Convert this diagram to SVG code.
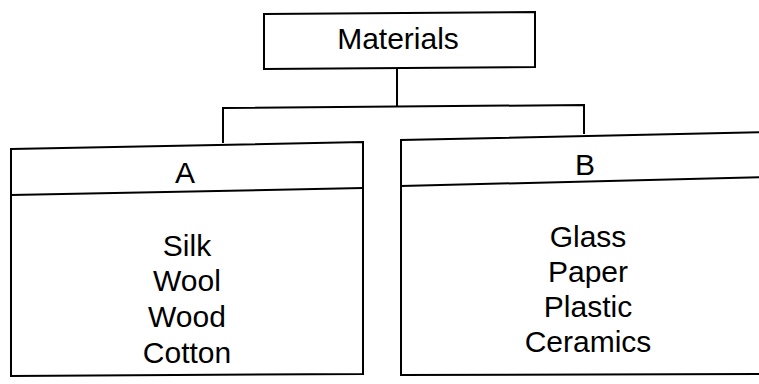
<svg xmlns="http://www.w3.org/2000/svg" width="759" height="384" viewBox="0 0 759 384">
<style>
.box{fill:none;stroke:#000;stroke-width:2}
.ln{fill:none;stroke:#000;stroke-width:2}
text{font-family:"Liberation Sans",Arial,sans-serif;font-size:30px;fill:#000;text-anchor:middle}
</style>
<rect width="759" height="384" fill="#fff"/>
<g id="connectors">
<path class="ln" d="M397,68 V107"/>
<path class="ln" d="M223,143 V108 L584,105 V134"/>
</g>
<g id="materials">
<path class="box" d="M264,14 L535,12 L535,67 L264,69 Z"/>
<text x="398" y="49">Materials</text>
</g>
<g id="A">
<path class="box" d="M11,149 L363,142 L363,374 L11,376 Z"/>
<path class="ln" d="M11,195 L363,188"/>
<text x="185" y="183">A</text>
<text x="187" y="256">Silk</text>
<text x="187" y="291">Wool</text>
<text x="187" y="327">Wood</text>
<text x="187" y="363">Cotton</text>
</g>
<g id="B">
<path class="box" d="M770,132 L401,140 L401,375 L770,374"/>
<path class="ln" d="M401,186 L770,177"/>
<text x="585" y="175">B</text>
<text x="588" y="247">Glass</text>
<text x="588" y="282">Paper</text>
<text x="588" y="317">Plastic</text>
<text x="588" y="352">Ceramics</text>
</g>
</svg>
